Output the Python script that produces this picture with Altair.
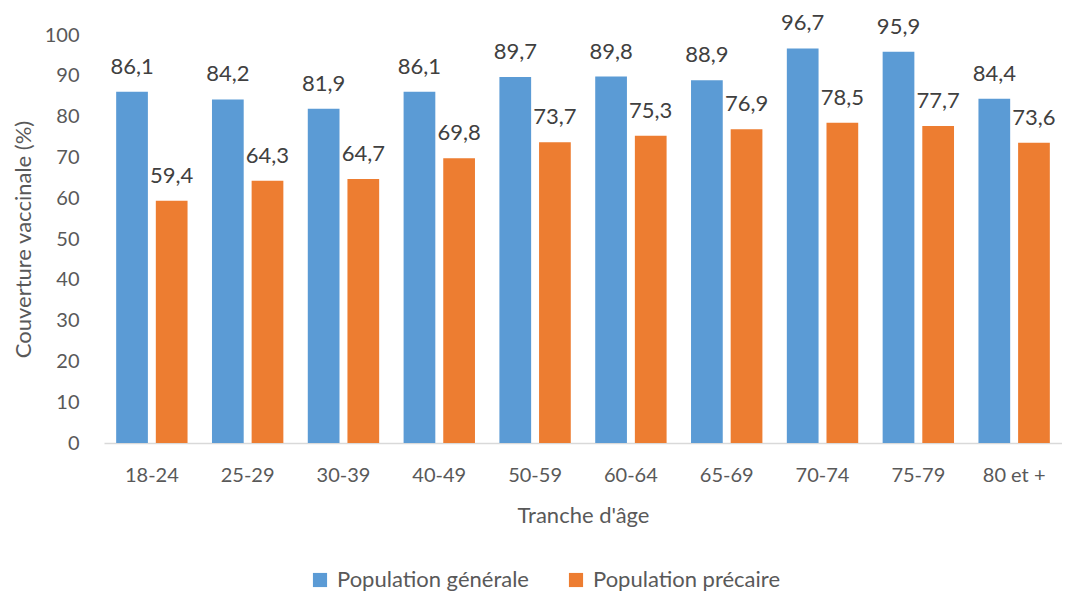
import altair as alt
import pandas as pd

categories = ["18-24", "25-29", "30-39", "40-49", "50-59", "60-64", "65-69", "70-74", "75-79", "80 et +"]
series_names = ["Population générale", "Population précaire"]
pop_generale = [86.1, 84.2, 81.9, 86.1, 89.7, 89.8, 88.9, 96.7, 95.9, 84.4]
pop_precaire = [59.4, 64.3, 64.7, 69.8, 73.7, 75.3, 76.9, 78.5, 77.7, 73.6]
colors = ["#5B9BD5", "#ED7D31"]

rows = []
for c, g, p in zip(categories, pop_generale, pop_precaire):
    rows.append({"cat": c, "serie": series_names[0], "val": g})
    rows.append({"cat": c, "serie": series_names[1], "val": p})
df = pd.DataFrame(rows)

FONT = "Lato"
TXT = "#595959"

x = alt.X("cat:N", sort=categories, title="Tranche d'âge",
          scale=alt.Scale(paddingInner=0.255, paddingOuter=0.127),
          axis=alt.Axis(labelAngle=0, ticks=False, domainColor="#D9D9D9", domainWidth=1.5,
                        labelFont=FONT, labelFontSize=20, labelColor=TXT, labelPadding=22,
                        titleFont=FONT, titleFontSize=22, titleColor=TXT, titleFontWeight="normal",
                        titlePadding=20))
xo = alt.XOffset("serie:N", sort=series_names, scale=alt.Scale(paddingInner=0.2, paddingOuter=0))
y = alt.Y("val:Q", title="Couverture vaccinale (%)",
          scale=alt.Scale(domain=[0, 100]),
          axis=alt.Axis(values=list(range(0, 101, 10)), grid=False, ticks=False, domain=False,
                        labelFont=FONT, labelFontSize=20, labelColor=TXT, labelPadding=25,
                        titleFont=FONT, titleFontSize=22, titleColor=TXT, titleFontWeight="normal",
                        titlePadding=9))

base = alt.Chart(df)
bars = base.mark_bar().encode(
    x=x, xOffset=xo, y=y,
    color=alt.Color("serie:N", sort=series_names,
                    scale=alt.Scale(domain=series_names, range=colors),
                    legend=alt.Legend(title=None, orient="none", direction="horizontal",
                                      legendX=205, legendY=534, labelLimit=400,
                                      symbolType="square", symbolSize=200, symbolStrokeWidth=0,
                                      labelFont=FONT, labelFontSize=22, labelColor=TXT,
                                      labelOffset=6, columnPadding=36)),
)
labels = base.transform_calculate(
    lab="replace(format(datum.val, '.1f'), '.', ',')"
).mark_text(dy=-18, baseline="alphabetic", font=FONT, fontSize=22, color="#404040").encode(
    x=alt.X("cat:N", sort=categories), xOffset=xo, y=alt.Y("val:Q"), text="lab:N"
)

chart = alt.layer(bars, labels).properties(
    width=958, height=408,
    autosize=alt.AutoSizeParams(type="none"),
    padding={"left": 96, "top": 27, "right": 0, "bottom": 150},
).configure_view(stroke=None)

chart.save("out.html", embed_options={"renderer": "svg", "actions": False})
